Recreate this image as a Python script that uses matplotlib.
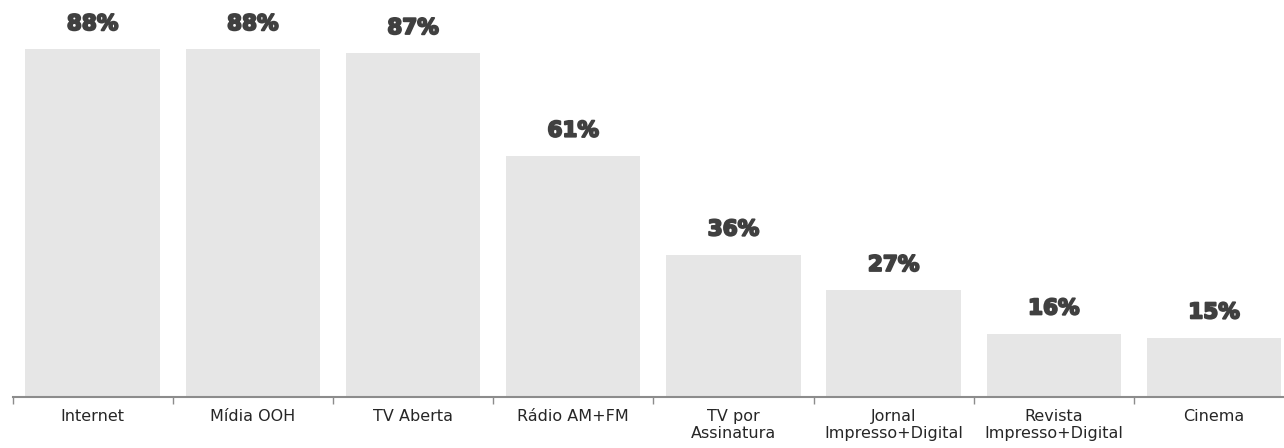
import matplotlib
matplotlib.use("Agg")
import matplotlib.pyplot as plt
import matplotlib.patheffects as pe

# Data
categories = ["Internet", "Mídia OOH", "TV Aberta", "Rádio AM+FM", "TV por\nAssinatura",
              "Jornal\nImpresso+Digital", "Revista\nImpresso+Digital", "Cinema"]
values = [88, 88, 87, 61, 36, 27, 16, 15]

W, H = 1284, 448
fig = plt.figure(figsize=(W / 100, H / 100), dpi=100)
# axes extends slightly past the right edge, like the reference
ax = fig.add_axes([12.5 / W, 51 / H, 8 * 160.2 / W, 395 / H])

x = range(len(categories))
ax.bar(x, values, width=0.84, color="#e6e6e6")

for xi, v in zip(x, values):
    ax.text(xi, v + 3.9, f"{v}%", ha="center", va="bottom", fontsize=15.5,
            fontweight="bold", color="#404040",
            path_effects=[pe.withStroke(linewidth=1.4, foreground="#404040")])

ax.set_xlim(-0.5, 7.5)
ax.set_ylim(0, 100)

# category labels centred, tick marks on the boundaries
ax.set_xticks([i - 0.5 for i in range(len(categories) + 1)])
ax.set_xticklabels([])
ax.tick_params(axis="x", length=5, width=1, color="#8c8c8c", direction="out")
for xi, lab in zip(x, categories):
    ax.text(xi, -3.0, lab, ha="center", va="top", fontsize=11.5, color="#262626",
            linespacing=1.15)

ax.set_yticks([])
for s in ["top", "right", "left"]:
    ax.spines[s].set_visible(False)
ax.spines["bottom"].set_color("#8c8c8c")
ax.spines["bottom"].set_linewidth(1.5)

fig.savefig("out.png", dpi=100)
